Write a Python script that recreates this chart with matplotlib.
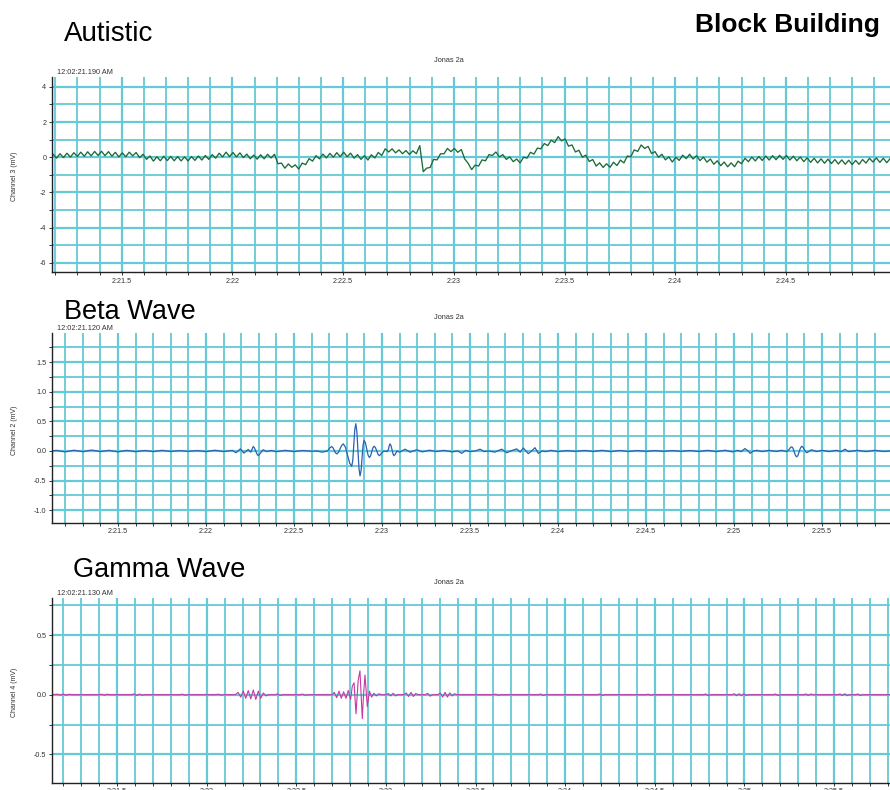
import numpy as np
import matplotlib
matplotlib.use("Agg")
import matplotlib.pyplot as plt
from matplotlib.ticker import MultipleLocator, FuncFormatter, FormatStrFormatter

plt.rcParams['font.family'] = ['Liberation Sans', 'DejaVu Sans']
plt.rcParams['axes.unicode_minus'] = False

# channel 3, sampled trace (seconds after 2:00, mV)
autistic_t0 = 21.19
autistic_rate = 64
autistic_mv = [
    0.17, -0.05, 0.20, -0.02, 0.23, 0.01, 0.26, 0.04, 0.29, 0.06, 0.31, 0.08, 0.33, 0.10, 0.34, 0.09,
    0.32, 0.06, 0.28, 0.02, 0.25, 0.03, 0.29, 0.08, 0.27, -0.02, 0.17, -0.12, 0.07, -0.22, 0.03, -0.20,
    0.06, -0.19, 0.05, -0.20, 0.04, -0.21, 0.02, -0.21, 0.04, -0.18, 0.07, -0.16, 0.10, -0.12, 0.15, -0.05,
    0.23, 0.02, 0.29, 0.04, 0.27, 0.02, 0.25, -0.02, 0.18, -0.09, 0.12, -0.11, 0.14, -0.09, 0.17, -0.04,
    0.17, -0.37, -0.33, -0.62, -0.38, -0.57, -0.43, -0.67, -0.33, -0.42, -0.08, -0.22, 0.09, -0.09, 0.18, -0.04,
    0.22, 0.00, 0.26, 0.04, 0.29, 0.03, 0.23, -0.05, 0.15, -0.12, 0.09, -0.16, 0.14, -0.04, 0.27, 0.10,
    0.48, 0.30, 0.48, 0.25, 0.42, 0.20, 0.38, 0.16, 0.37, 0.20, 0.66, -0.82, -0.62, -0.58, -0.12, -0.15,
    0.20, 0.20, 0.50, 0.32, 0.50, 0.28, 0.44, -0.10, -0.35, -0.70, -0.45, -0.50, -0.15, -0.20, 0.15, 0.10,
    0.30, 0.02, 0.15, -0.12, 0.02, -0.25, -0.10, -0.32, 0.00, -0.05, 0.28, 0.18, 0.52, 0.48, 0.78, 0.66,
    0.97, 0.83, 1.17, 0.93, 1.04, 0.63, 0.70, 0.30, 0.40, 0.00, 0.12, -0.24, -0.13, -0.50, -0.32, -0.58,
    -0.37, -0.57, -0.28, -0.47, -0.16, -0.32, 0.07, 0.03, 0.42, 0.33, 0.70, 0.50, 0.62, 0.21, 0.32, 0.00,
    0.17, -0.15, 0.02, -0.27, 0.00, -0.18, 0.12, -0.08, 0.17, -0.10, 0.09, -0.19, 0.01, -0.28, -0.10, -0.40,
    -0.20, -0.48, -0.27, -0.54, -0.32, -0.54, -0.22, -0.37, -0.06, -0.25, 0.01, -0.21, 0.04, -0.18, 0.07, -0.16,
    0.09, -0.14, 0.11, -0.12, 0.10, -0.16, 0.06, -0.20, 0.02, -0.25, -0.03, -0.29, -0.06, -0.32, -0.09, -0.34,
    -0.11, -0.36, -0.13, -0.38, -0.15, -0.40, -0.17, -0.42, -0.18, -0.40, -0.13, -0.33, -0.06, -0.27, -0.04, -0.29,
    -0.06, -0.31, -0.07,
]

# channel 2 (beta band), (time, mV) points
beta_points = [
    (21.125, 0.0), (21.15, 0.01), (21.20, -0.015), (21.25, 0.012), (21.30, -0.012), (21.35, 0.015),
    (21.40, -0.01), (21.45, 0.01), (21.50, -0.015), (21.55, 0.01), (21.60, -0.012), (21.65, 0.008),
    (21.70, -0.01), (21.75, 0.01), (21.80, -0.008), (21.85, 0.006), (21.90, -0.006), (21.95, 0.006),
    (22.00, -0.01), (22.05, 0.012), (22.10, -0.01), (22.15, 0.01),
    (22.17, -0.03), (22.195, 0.035), (22.215, -0.035), (22.24, 0.025), (22.255, -0.02), (22.2615, 0.03),
    (22.268, 0.075), (22.275, 0.052), (22.2825, 0.0), (22.29, -0.055), (22.297, -0.08), (22.304, -0.055),
    (22.311, -0.03), (22.318, 0.0), (22.325, 0.02), (22.345, -0.01), (22.37, 0.008),
    (22.40, -0.012), (22.45, 0.01), (22.50, -0.01), (22.55, 0.008), (22.60, -0.005), (22.63, 0.0),
    (22.66, -0.02), (22.69, 0.0), (22.703, 0.05), (22.714, 0.074), (22.721, 0.056), (22.7285, 0.012),
    (22.736, -0.032), (22.743, -0.05), (22.752, -0.025), (22.7615, 0.035), (22.771, 0.095),
    (22.78, 0.12), (22.792, 0.064), (22.804, -0.07), (22.816, -0.204), (22.828, -0.26), (22.834, -0.155),
    (22.8395, 0.1), (22.845, 0.355), (22.851, 0.46), (22.857, 0.331), (22.863, 0.02), (22.869, -0.291),
    (22.875, -0.42), (22.881, -0.332), (22.8865, -0.12), (22.892, 0.092), (22.898, 0.18), (22.9055, 0.138),
    (22.913, 0.035), (22.9205, -0.068), (22.928, -0.11), (22.935, -0.082), (22.9415, -0.015),
    (22.948, 0.052), (22.955, 0.08), (22.9625, 0.057), (22.97, 0.0), (22.9775, -0.057), (22.985, -0.08),
    (22.997, -0.04), (23.01, 0.0), (23.03, -0.01), (23.037, 0.03), (23.041, 0.09), (23.045, 0.12),
    (23.051, 0.09), (23.057, 0.02), (23.063, -0.055), (23.068, -0.08), (23.075, -0.055), (23.085, 0.0),
    (23.10, -0.02), (23.131, 0.03), (23.159, -0.02), (23.197, 0.02), (23.23, -0.015), (23.27, 0.012),
    (23.31, -0.01), (23.35, 0.01), (23.40, -0.015), (23.43, 0.0), (23.453, -0.04), (23.475, 0.01),
    (23.50, -0.01), (23.53, 0.0), (23.557, 0.03), (23.58, -0.01), (23.61, 0.0), (23.64, -0.02),
    (23.68, 0.03), (23.709, -0.03), (23.74, 0.01), (23.765, 0.035), (23.785, -0.02), (23.803, 0.05),
    (23.831, -0.045), (23.85, 0.0), (23.869, 0.055), (23.888, -0.04), (23.91, 0.0), (23.93, -0.01),
    (23.96, 0.01), (24.00, -0.01), (24.05, 0.006), (24.10, -0.006), (24.15, 0.008), (24.20, -0.008),
    (24.25, 0.01), (24.30, -0.01), (24.35, 0.008), (24.40, -0.008), (24.45, 0.006), (24.50, -0.006),
    (24.55, 0.006), (24.60, -0.006), (24.65, 0.006), (24.70, -0.006), (24.75, 0.008), (24.80, -0.008),
    (24.85, 0.01), (24.90, -0.01), (24.95, 0.012), (24.99, -0.015), (25.02, 0.01), (25.04, -0.01),
    (25.062, 0.04), (25.08, 0.0), (25.091, -0.04), (25.11, 0.0), (25.13, 0.01), (25.16, -0.01),
    (25.20, 0.01), (25.24, -0.008), (25.27, 0.01), (25.30, -0.01), (25.314, 0.03), (25.321, 0.06),
    (25.328, 0.07), (25.335, 0.045), (25.342, -0.015), (25.349, -0.075), (25.356, -0.1), (25.363, -0.075),
    (25.37, -0.01), (25.378, 0.055), (25.385, 0.08), (25.392, 0.06), (25.399, 0.025), (25.406, -0.01),
    (25.413, -0.03), (25.44, 0.02), (25.47, -0.01), (25.50, 0.01), (25.54, -0.01), (25.58, 0.01),
    (25.61, -0.01), (25.631, 0.03), (25.65, -0.01), (25.70, 0.01), (25.75, -0.01), (25.80, 0.01),
    (25.85, -0.008), (25.89, 0.0),
]

# channel 4 (gamma band), (time, mV) points
gamma_points = [
    (21.137, 0.0), (21.17, 0.004), (21.185, -0.004), (21.20, 0.005), (21.215, -0.005), (21.23, 0.003),
    (21.26, 0.0), (21.40, 0.0), (21.415, 0.004), (21.43, -0.004), (21.445, 0.004), (21.46, 0.0),
    (21.58, 0.0), (21.595, 0.006), (21.61, -0.006), (21.625, 0.005), (21.64, -0.004), (21.655, 0.0),
    (21.85, 0.0), (21.865, 0.004), (21.88, -0.004), (21.895, 0.0),
    (22.05, 0.0), (22.065, 0.004), (22.08, -0.004), (22.095, 0.0),
    (22.16, 0.0), (22.175, 0.02), (22.19, -0.02), (22.204, 0.03), (22.218, -0.03), (22.232, 0.035),
    (22.246, -0.035), (22.26, 0.04), (22.274, -0.04), (22.288, 0.03), (22.302, -0.03), (22.316, 0.015),
    (22.33, -0.01), (22.345, 0.0), (22.38, 0.0), (22.395, 0.006), (22.41, -0.006), (22.425, 0.0),
    (22.52, 0.0), (22.535, 0.005), (22.55, -0.005), (22.565, 0.0),
    (22.70, 0.0), (22.712, 0.02), (22.725, -0.025), (22.738, 0.03), (22.751, -0.03), (22.764, 0.025),
    (22.777, -0.03), (22.79, 0.035), (22.803, -0.04), (22.812, 0.07), (22.822, 0.10), (22.833, -0.16),
    (22.845, 0.12), (22.855, 0.20), (22.868, -0.20), (22.875, 0.0), (22.883, 0.165), (22.896, -0.10),
    (22.908, 0.03), (22.92, -0.02), (22.933, 0.012), (22.946, -0.01), (22.96, 0.008), (22.973, 0.0),
    (23.0, 0.0), (23.013, 0.01), (23.026, -0.01), (23.04, 0.012), (23.053, -0.01), (23.066, 0.0),
    (23.10, 0.0), (23.113, 0.015), (23.126, -0.015), (23.14, 0.02), (23.153, -0.015), (23.166, 0.01),
    (23.18, 0.0), (23.22, 0.0), (23.233, 0.012), (23.246, -0.012), (23.26, 0.0),
    (23.29, 0.0), (23.303, 0.015), (23.316, -0.02), (23.33, 0.02), (23.343, -0.02), (23.356, 0.015),
    (23.37, -0.01), (23.383, 0.008), (23.396, 0.0),
    (23.60, 0.0), (23.613, 0.005), (23.626, -0.005), (23.64, 0.0),
    (23.85, 0.0), (23.863, 0.006), (23.876, -0.006), (23.89, 0.0),
    (24.18, 0.0), (24.193, 0.006), (24.206, -0.006), (24.22, 0.0),
    (24.45, 0.0), (24.463, 0.004), (24.476, -0.004), (24.49, 0.0),
    (24.77, 0.0), (24.783, 0.006), (24.796, -0.006), (24.81, 0.0),
    (24.93, 0.0), (24.943, 0.008), (24.956, -0.008), (24.97, 0.008), (24.983, -0.008), (24.996, 0.006),
    (25.01, -0.006), (25.023, 0.0), (25.16, 0.0), (25.173, 0.006), (25.186, -0.006), (25.20, 0.0),
    (25.33, 0.0), (25.343, 0.006), (25.356, -0.006), (25.37, 0.006), (25.383, 0.0),
    (25.52, 0.0), (25.533, 0.006), (25.546, -0.006), (25.56, 0.008), (25.573, -0.008), (25.586, 0.0),
    (25.62, 0.0), (25.633, 0.006), (25.646, -0.006), (25.66, 0.0), (25.82, 0.0),
]

GRID = '#66c9d7'
TXT = '#333333'
W, H = 890, 790


def setup(ax, xlim, ylim, ymajor, yminor, yfmt):
    ax.set_xlim(*xlim)
    ax.set_ylim(*ylim)
    ax.xaxis.set_major_locator(MultipleLocator(0.5))
    ax.xaxis.set_minor_locator(MultipleLocator(0.1))
    ax.xaxis.set_major_formatter(FuncFormatter(lambda s, _: f"2:{s:g}"))
    ax.yaxis.set_major_locator(MultipleLocator(ymajor))
    ax.yaxis.set_minor_locator(MultipleLocator(yminor))
    ax.yaxis.set_major_formatter(yfmt)
    ax.grid(which='major', color=GRID, lw=1.6)
    ax.grid(which='minor', color=GRID, lw=1.3)
    ax.set_axisbelow(True)
    for side in ('top', 'right'):
        ax.spines[side].set_visible(False)
    for side in ('left', 'bottom'):
        ax.spines[side].set_color('#222222')
        ax.spines[side].set_linewidth(1.0)
    ax.tick_params(which='major', direction='out', length=2.5, width=0.7,
                   colors=TXT, labelsize=5.2, pad=1.5)
    ax.tick_params(which='minor', direction='out', length=2.0, width=0.7, colors=TXT)


def place(top, bottom, right=W):
    return [52 / W, 1 - bottom / H, (right - 52) / W, (bottom - top) / H]


fig = plt.figure(figsize=(W / 100, H / 100), dpi=100)

ax1 = fig.add_axes(place(77, 272, right=896.6))
ax2 = fig.add_axes(place(333, 522.7))
ax3 = fig.add_axes(place(598, 782.7))

setup(ax1, (21.185, 25.0), (-6.52, 4.56), 2, 1, FormatStrFormatter('%d'))
setup(ax2, (21.125, 25.886), (-1.21, 1.99), 0.5, 0.25, FormatStrFormatter('%.1f'))
setup(ax3, (21.137, 25.812), (-0.737, 0.81), 0.5, 0.25, FormatStrFormatter('%.1f'))

t_aut = autistic_t0 + np.arange(len(autistic_mv)) / autistic_rate
ax1.plot(t_aut, autistic_mv, color='#1c6a38', lw=0.95)

bt, bv = zip(*beta_points)
ax2.plot(bt, bv, color='#2d5fb0', lw=0.9)

gt, gv = zip(*gamma_points)
ax3.plot(gt, gv, color='#c53aa3', lw=0.8)

# panel headings and recording labels
small = dict(fontsize=5.3, color=TXT)
for ax, stamp, ytop, ychan, chan in [
        (ax1, '12:02:21.190 AM', 60, 176, 'Channel 3 (mV)'),
        (ax2, '12:02:21.120 AM', 318, 430, 'Channel 2 (mV)'),
        (ax3, '12:02:21.130 AM', 582, 692, 'Channel 4 (mV)')]:
    ax.text(0.006, 1.004, stamp, transform=ax.transAxes, ha='left', va='bottom', **small)
    fig.text(449 / W, 1 - ytop / H, 'Jonas 2a', ha='center', va='center', **small)
    fig.text(15 / W, 1 - ychan / H, chan, rotation=90, ha='center', va='center',
             fontsize=5.0, color=TXT, family=['Liberation Sans Narrow', 'Liberation Sans'])

fig.text(64 / W, 1 - 41 / H, 'Autistic', fontsize=20, va='baseline', ha='left')
fig.text(880 / W, 1 - 32 / H, 'Block Building', fontsize=19, fontweight='bold',
         va='baseline', ha='right')
fig.text(64 / W, 1 - 319 / H, 'Beta Wave', fontsize=19.5, va='baseline', ha='left')
fig.text(73 / W, 1 - 577 / H, 'Gamma Wave', fontsize=19.5, va='baseline', ha='left')

fig.savefig('out.png', dpi=100)
